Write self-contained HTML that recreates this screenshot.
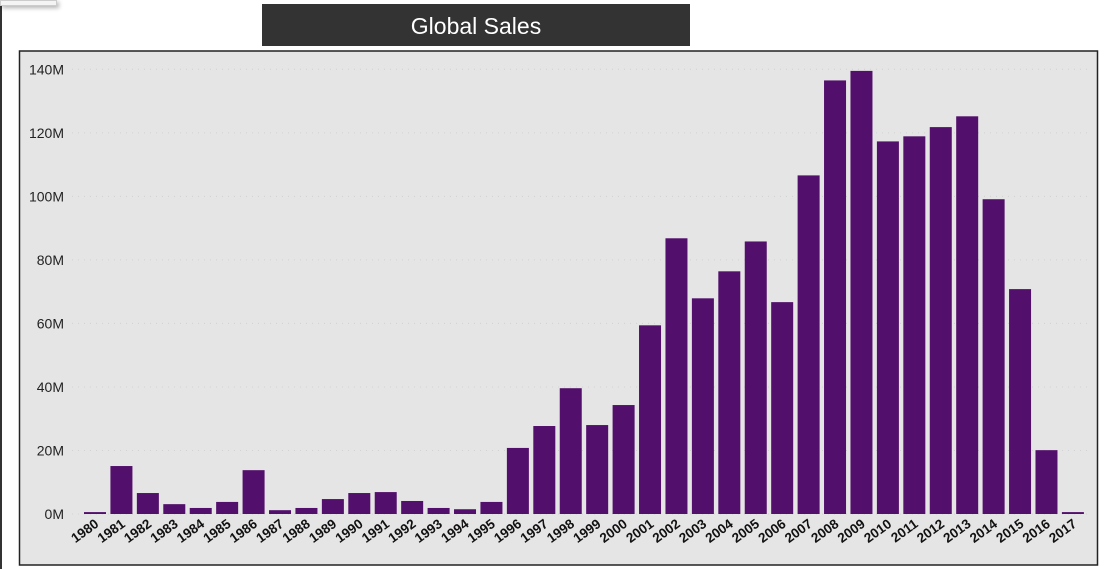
<!DOCTYPE html>
<html><head><meta charset="utf-8">
<style>
html,body{margin:0;padding:0;width:1104px;height:569px;background:#fff;overflow:hidden;font-family:"Liberation Sans",sans-serif;}
</style></head>
<body>
<div style="position:absolute;left:0;top:0;width:2px;height:569px;background:#333;"></div>
<div style="position:absolute;left:0;top:0;width:55px;height:4px;background:#f4f4f4;border:1px solid #ccc;box-shadow:2px 2px 4px rgba(0,0,0,.3);"></div>
<div style="position:absolute;left:262px;top:4px;width:428px;height:42px;background:#333;color:#fff;font-size:23px;line-height:44px;text-align:center;">Global Sales</div>
<svg id="chart" width="1104" height="569" style="position:absolute;left:0;top:0;">
<rect x="19.5" y="51" width="1078" height="514" fill="#e5e5e5" stroke="#222" stroke-width="1.5"/>
</svg>
<script>
const years=["1980","1981","1982","1983","1984","1985","1986","1987","1988","1989","1990","1991","1992","1993","1994","1995","1996","1997","1998","1999","2000","2001","2002","2003","2004","2005","2006","2007","2008","2009","2010","2011","2012","2013","2014","2015","2016","2017"];
const sales=[0.6,15.1,6.6,3.1,1.9,3.8,13.8,1.2,1.9,4.7,6.6,6.9,4.1,1.9,1.5,3.8,20.8,27.7,39.6,28,34.3,59.4,86.8,67.9,76.4,85.8,66.7,106.6,136.5,139.5,117.3,118.9,121.8,125.2,99.1,70.8,20.1,0.6];
const ticks=[0,20,40,60,80,100,120,140];
const tickLabels=["0M","20M","40M","60M","80M","100M","120M","140M"];
const NS="http://www.w3.org/2000/svg";
const svg=document.getElementById('chart');
const y0=514,pxPer=(514-69.3)/140;
function yS(v){return y0-v*pxPer;}
function xS(i){return 95+i*26.43;}
const bw=22;
ticks.forEach((t,i)=>{
  const l=document.createElementNS(NS,'line');
  
  
  l.setAttribute('x1',72);l.setAttribute('x2',1092);
  l.setAttribute('y1',yS(t));l.setAttribute('y2',yS(t));
  l.setAttribute('stroke','#d2d2d2');l.setAttribute('stroke-dasharray','1 5');
  svg.appendChild(l);
  const tx=document.createElementNS(NS,'text');
  
  
  tx.setAttribute('x',64);tx.setAttribute('y',yS(t)+5);
  tx.setAttribute('text-anchor','end');tx.setAttribute('font-size','14');tx.setAttribute('fill','#222');
  tx.textContent=tickLabels[i];
  svg.appendChild(tx);
});
sales.forEach((v,i)=>{
  const r=document.createElementNS(NS,'rect');
  
  
  r.setAttribute('x',xS(i)-bw/2);r.setAttribute('width',bw);
  r.setAttribute('y',yS(v));r.setAttribute('height',y0-yS(v));
  r.setAttribute('fill','#520f6b');
  svg.appendChild(r);
  const tx=document.createElementNS(NS,'text');
  
  
  const cx=xS(i)-1,cy=518;
  tx.setAttribute('x',cx);tx.setAttribute('y',cy);
  tx.setAttribute('text-anchor','end');tx.setAttribute('font-size','13.5');tx.setAttribute('font-weight','bold');tx.setAttribute('fill','#111');
  tx.setAttribute('transform','rotate(-36 '+cx+' '+cy+')');
  tx.setAttribute('dominant-baseline','hanging');
  tx.textContent=years[i];
  svg.appendChild(tx);
});
</script>
</body></html>
